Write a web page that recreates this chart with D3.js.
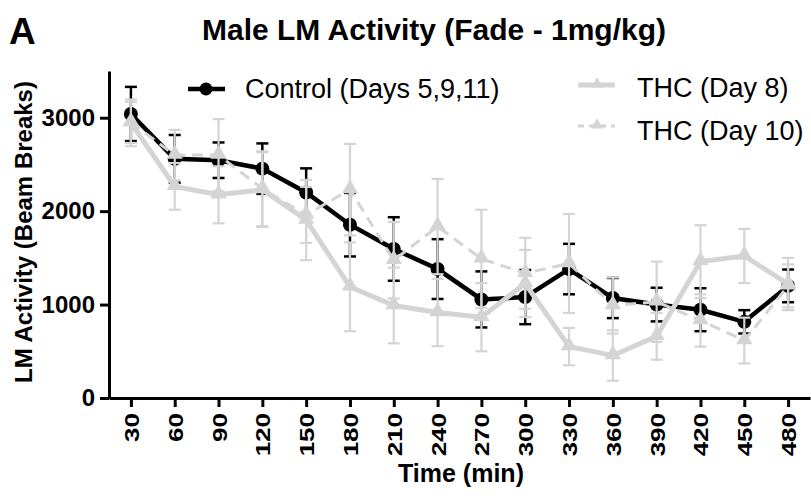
<!DOCTYPE html>
<html lang="en">
<head>
<meta charset="utf-8">
<title>Male LM Activity</title>
<script src="https://cdn.jsdelivr.net/npm/d3@7"></script>
<style>
  body { margin: 0; background: #fff; }
  svg { display: block; }
  svg text { font-family: "Liberation Sans", Arial, sans-serif; }
  .tick text { font-weight: bold; }
</style>
</head>
<body>
<script>
// time points (min)
var times = [30, 60, 90, 120, 150, 180, 210, 240, 270, 300, 330, 360, 390, 420, 450, 480];

// Control (Days 5,9,11)
var control    = [3040, 2560, 2545, 2455, 2200, 1855, 1595, 1380, 1055, 1080, 1380, 1070, 1000, 945, 815, 1200];
var controlSem = [290, 255, 190, 270, 258, 340, 340, 320, 300, 290, 270, 215, 180, 230, 125, 175];

// THC (Day 8)
var day8    = [2945, 2265, 2175, 2230, 1905, 1190, 990, 915, 865, 1225, 550, 455, 660, 1460, 1520, 1220];
var day8Sem = [250, 250, 305, 400, 430, 475, 405, 360, 365, 360, 200, 270, 250, 390, 290, 280];

// THC (Day 10)
var day10    = [2950, 2600, 2600, 2240, 1960, 2230, 1475, 1835, 1490, 1335, 1440, 990, 1030, 830, 615, 1200];
var day10Sem = [220, 270, 385, 400, 300, 490, 410, 510, 525, 380, 530, 300, 430, 280, 245, 230];

var yTicks = [0, 1000, 2000, 3000];

var width = 811, height = 501;
var mLeft = 109, mRight = 810, mTop = 71, mBottom = 398;
var grey = "#d4d4d4";

var svg = d3.select("body").append("svg")
    .attr("width", width).attr("height", height);

var x = d3.scalePoint().domain(times).range([mLeft, mRight]).padding(0.5);
var y = d3.scaleLinear().domain([0, 3500]).range([mBottom, mTop]);

// axes
var yAxis = svg.append("g")
    .attr("transform", "translate(" + mLeft + ",0)")
    .call(d3.axisLeft(y).tickValues(yTicks).tickFormat(d3.format("d"))
        .tickSize(9).tickPadding(5).tickSizeOuter(0));
yAxis.selectAll("text").style("font-size", "24px");

var xAxis = svg.append("g")
    .attr("transform", "translate(0," + mBottom + ")")
    .call(d3.axisBottom(x).tickSize(9).tickSizeOuter(0));
// narrow, tall labels like the original export
xAxis.selectAll("text")
    .style("font-size", "26px")
    .attr("transform", "rotate(-90) scale(1,0.8)")
    .attr("text-anchor", "end")
    .attr("x", -15).attr("y", 0).attr("dy", "0.36em");

svg.selectAll(".domain, .tick line").attr("stroke", "#000").attr("stroke-width", 3);

// series
var series = [
  {name: "Control (Days 5,9,11)", vals: control, sem: controlSem, color: "#000", sym: "circle", dash: null, lw: 4.5, ew: 2.5},
  {name: "THC (Day 8)", vals: day8, sem: day8Sem, color: grey, sym: "tri", dash: null, lw: 5, ew: 2.2},
  {name: "THC (Day 10)", vals: day10, sem: day10Sem, color: grey, sym: "tri", dash: "11,7", lw: 3, ew: 2.2}
];

var line = d3.line()
    .x(function(d) { return x(d.t); })
    .y(function(d) { return y(d.v); });

var tri = d3.symbol().type(d3.symbolTriangle).size(115);

series.forEach(function(s) {
  var pts = times.map(function(t, i) { return {t: t, v: s.vals[i], e: s.sem[i]}; });
  var g = svg.append("g");

  // error bars
  var eb = g.selectAll(".eb").data(pts).enter().append("g")
      .attr("stroke", s.color).attr("stroke-width", s.ew);
  eb.append("line")
      .attr("x1", function(d) { return x(d.t); }).attr("x2", function(d) { return x(d.t); })
      .attr("y1", function(d) { return y(d.v - d.e); }).attr("y2", function(d) { return y(d.v + d.e); });
  [1, -1].forEach(function(k) {
    eb.append("line")
        .attr("x1", function(d) { return x(d.t) - 6; }).attr("x2", function(d) { return x(d.t) + 6; })
        .attr("y1", function(d) { return y(d.v + k * d.e); }).attr("y2", function(d) { return y(d.v + k * d.e); });
  });

  g.append("path").datum(pts)
      .attr("d", line)
      .attr("fill", "none")
      .attr("stroke", s.color)
      .attr("stroke-width", s.lw)
      .attr("stroke-dasharray", s.dash);

  if (s.sym == "circle") {
    g.selectAll("circle").data(pts).enter().append("circle")
        .attr("cx", function(d) { return x(d.t); })
        .attr("cy", function(d) { return y(d.v); })
        .attr("r", 7).attr("fill", s.color);
  } else {
    g.selectAll(".mk").data(pts).enter().append("path")
        .attr("d", tri)
        .attr("transform", function(d) { return "translate(" + x(d.t) + "," + (y(d.v) - 1) + ")"; })
        .attr("fill", s.color);
  }
});

// legend
var legendPos = [[188, 89, 245, 98], [578, 85, 637, 97], [578, 126, 637, 140]];
series.forEach(function(s, i) {
  var p = legendPos[i];
  var lg = svg.append("g");
  lg.append("line")
      .attr("x1", p[0]).attr("x2", p[0] + 37)
      .attr("y1", p[1]).attr("y2", p[1])
      .attr("stroke", s.color).attr("stroke-width", s.lw)
      .attr("stroke-dasharray", s.dash ? "6,5" : null);
  if (s.sym == "circle") {
    lg.append("circle").attr("cx", p[0] + 18).attr("cy", p[1]).attr("r", 6.5).attr("fill", s.color);
  } else {
    lg.append("path").attr("d", d3.symbol().type(d3.symbolTriangle).size(60))
        .attr("transform", "translate(" + (p[0] + 19) + "," + (p[1] - 1) + ")")
        .attr("fill", s.color);
  }
  lg.append("text").attr("x", p[2]).attr("y", p[3])
      .style("font-size", "27px").text(s.name);
});

// titles
svg.append("text").attr("x", 434).attr("y", 40)
    .attr("text-anchor", "middle")
    .style("font-size", "30px").style("font-weight", "bold")
    .text("Male LM Activity (Fade - 1mg/kg)");

svg.append("text").attr("x", 9).attr("y", 44)
    .style("font-size", "37px").style("font-weight", "bold")
    .text("A");

svg.append("text").attr("x", 461).attr("y", 482)
    .attr("text-anchor", "middle")
    .style("font-size", "25px").style("font-weight", "bold")
    .text("Time (min)");

svg.append("text")
    .attr("transform", "translate(32,232) rotate(-90)")
    .attr("text-anchor", "middle")
    .style("font-size", "24px").style("font-weight", "bold")
    .text("LM Activity (Beam Breaks)");
</script>
</body>
</html>
